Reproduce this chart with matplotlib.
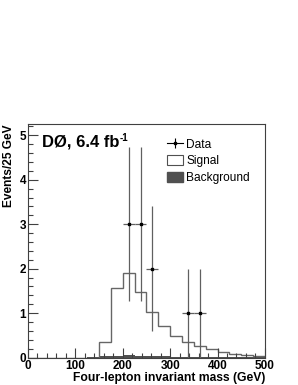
import matplotlib
matplotlib.use("Agg")
import matplotlib.pyplot as plt
from matplotlib.ticker import MultipleLocator
from matplotlib.patches import Patch
from matplotlib.lines import Line2D
from matplotlib.legend_handler import HandlerTuple
import numpy as np

plt.rcParams['font.family'] = ['Liberation Sans', 'DejaVu Sans']

# histogram bins (GeV)
edges = np.arange(0, 525, 25)
signal = [0, 0, 0, 0, 0, 0, 0.36, 1.56, 1.91, 1.48, 1.03, 0.71, 0.49, 0.36,
          0.26, 0.19, 0.13, 0.09, 0.06, 0.04]
background = [0, 0, 0, 0, 0, 0.02, 0.03, 0.04, 0.05, 0.04, 0.03, 0.03, 0.02,
              0.02, 0.01, 0.01, 0.01, 0.01, 0.005, 0.005]

# observed events
data_x = [212.5, 237.5, 262.5, 337.5, 362.5]
data_n = [3, 3, 2, 1, 1]

fig = plt.figure(figsize=(2.98, 3.85), dpi=100)
ax = fig.add_axes([0.094, 0.0714, 0.795, 0.606])

ax.stairs(background, edges, fill=True, color='#505050')
ax.stairs(signal, edges, color='#666666', lw=1.0)

err = np.sqrt(data_n)
ax.errorbar(data_x, data_n, yerr=err, xerr=12.5, fmt='s', ms=2,
            color='black', ecolor='#606060', elinewidth=0.9, capsize=0)

ax.set_xlim(0, 500)
ax.set_ylim(0, 5.25)
ax.xaxis.set_major_locator(MultipleLocator(100))
ax.xaxis.set_minor_locator(MultipleLocator(20))
ax.yaxis.set_major_locator(MultipleLocator(1))
ax.yaxis.set_minor_locator(MultipleLocator(0.2))
ax.tick_params(which='both', direction='in', top=False, right=False,
               width=0.8, color='#404040', labelsize=8.5, pad=1.5)
ax.tick_params(which='major', length=7)
ax.tick_params(which='minor', length=3.5)
for lab in ax.get_xticklabels() + ax.get_yticklabels():
    lab.set_fontweight('bold')
for s in ax.spines.values():
    s.set_color('#404040')
    s.set_linewidth(0.8)

ax.set_xlabel('Four-lepton invariant mass (GeV)', fontsize=8.75,
              fontweight='bold', loc='right', labelpad=0)
ax.set_ylabel('Events/25 GeV', fontsize=8.6, fontweight='bold', loc='top',
              labelpad=3)

t = ax.text(0.059, 0.903, 'DØ, 6.4 fb', transform=ax.transAxes,
            fontsize=12, fontweight='bold', va='baseline', ha='left')
ax.annotate('-1', xy=(1, 1), xycoords=t, xytext=(0.3, 1), textcoords='offset points',
            fontsize=7, fontweight='bold', va='top', ha='left')

# data legend entry: little cross with a dot
data_handle = (Line2D([], [], color='black', lw=0.8),
               Line2D([], [], color='black', marker='|', ms=7, mew=0.8, ls='none'),
               Line2D([], [], color='black', marker='s', ms=2, ls='none'))
handles = [data_handle,
           Patch(facecolor='white', edgecolor='#505050', lw=0.8),
           Patch(facecolor='#505050', edgecolor='#505050')]
ax.legend(handles, ['Data', 'Signal', 'Background'], loc='upper left',
          bbox_to_anchor=(0.567, 0.959), frameon=False, fontsize=8.6,
          handlelength=1.3, handleheight=0.85, handletextpad=0.3,
          labelspacing=0.4, borderaxespad=0,
          handler_map={tuple: HandlerTuple(ndivide=1, pad=0)})

fig.savefig('out.png', dpi=100)
